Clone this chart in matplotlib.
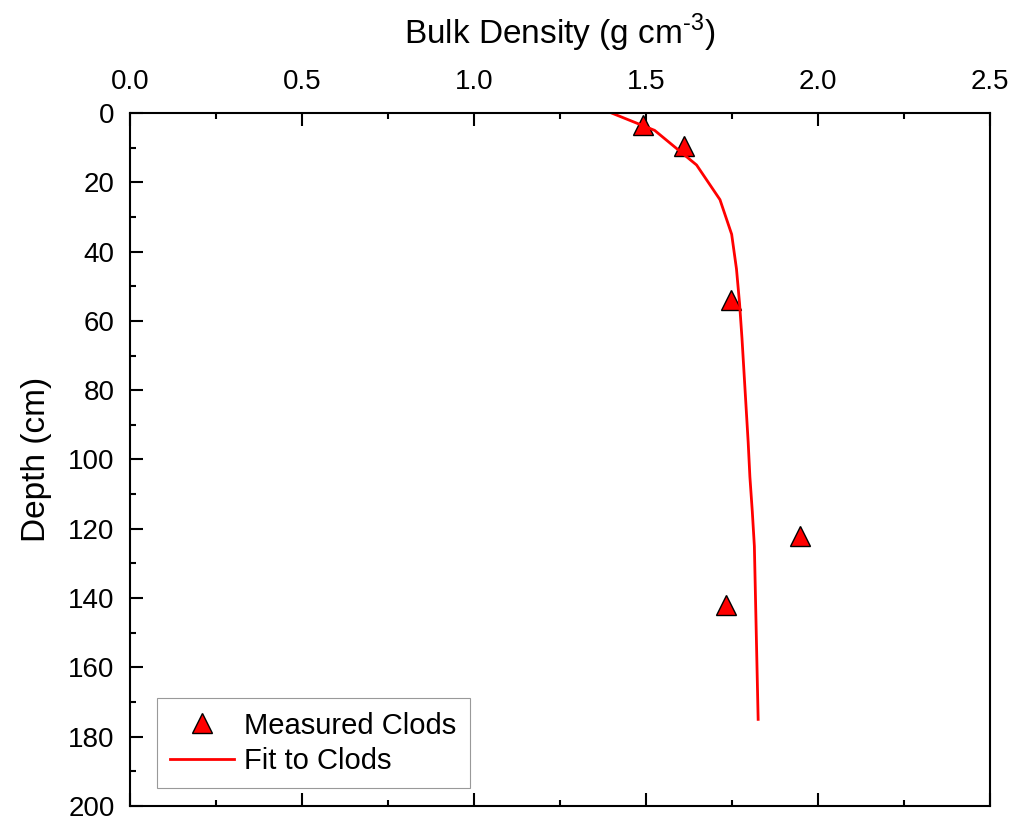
import matplotlib.pyplot as plt
from matplotlib.ticker import MultipleLocator

plt.rcParams['font.family'] = ['Liberation Sans', 'DejaVu Sans']
plt.rcParams['mathtext.fontset'] = 'custom'
plt.rcParams['mathtext.rm'] = 'Liberation Sans'

# measured clods
clod_density = [1.49, 1.61, 1.747, 1.947, 1.733]
clod_depth = [3.5, 9.5, 54, 122, 142]

# fitted curve
fit_depth = [0, 5, 15, 25, 35, 45, 55, 65, 75, 85, 95, 105, 115, 125, 175]
fit_density = [1.40, 1.525, 1.647, 1.715, 1.749, 1.763, 1.772, 1.779,
               1.785, 1.791, 1.797, 1.802, 1.809, 1.815, 1.826]

fig = plt.figure(figsize=(10.18, 8.19), dpi=100)
ax = fig.add_axes([0.1277, 0.0159, 0.8448, 0.8461])

ax.plot(clod_density, clod_depth, linestyle='none', marker='^', markersize=15,
        markerfacecolor='red', markeredgecolor='black', markeredgewidth=1,
        label='Measured Clods')
ax.plot(fit_density, fit_depth, color='red', linewidth=2, label='Fit to Clods')

ax.set_xlim(0, 2.5)
ax.set_ylim(200, 0)
ax.xaxis.set_major_locator(MultipleLocator(0.5))
ax.xaxis.set_minor_locator(MultipleLocator(0.25))
ax.yaxis.set_major_locator(MultipleLocator(20))
ax.yaxis.set_minor_locator(MultipleLocator(10))
ax.xaxis.set_major_formatter(plt.FormatStrFormatter('%.1f'))

ax.xaxis.tick_top()
ax.xaxis.set_label_position('top')
ax.tick_params(axis='x', which='both', direction='in', top=True, bottom=True,
               labelsize=20, width=1.5, pad=13)
ax.tick_params(axis='x', which='major', length=9.5)
ax.tick_params(axis='x', which='minor', length=4.5)
ax.tick_params(axis='y', which='both', direction='in', left=True, right=False,
               labelsize=20, width=1.5, pad=11)
ax.tick_params(axis='y', which='major', length=9.5)
ax.tick_params(axis='y', which='minor', length=4.5)
for s in ax.spines.values():
    s.set_linewidth(1.5)

ax.set_xlabel(r'Bulk Density (g cm$^{\text{-3}}$)', fontsize=24, labelpad=18)
ax.set_ylabel('Depth (cm)', fontsize=24, labelpad=12)

leg = ax.legend(loc='lower left', bbox_to_anchor=(0.031, 0.026), fontsize=21,
                frameon=True, fancybox=False, edgecolor='gray',
                handlelength=2.2, handletextpad=0.35, borderpad=0.45,
                borderaxespad=0, labelspacing=0.25)
leg.get_frame().set_linewidth(0.8)

fig.savefig('out.png', dpi=100)
